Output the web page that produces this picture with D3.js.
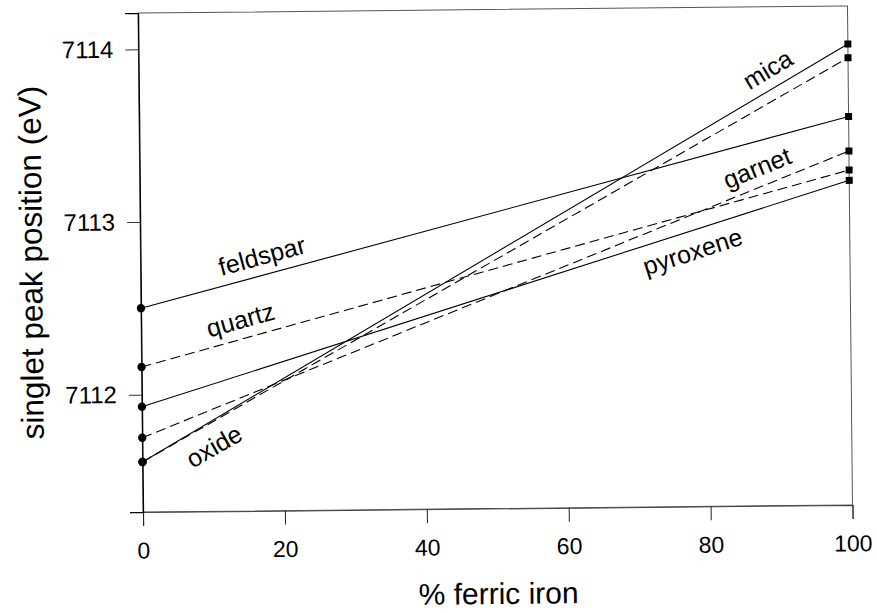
<!DOCTYPE html>
<html>
<head>
<meta charset="utf-8">
<script src="https://cdn.jsdelivr.net/npm/d3@7"></script>
<style>
  html, body { margin: 0; padding: 0; background: #fff; }
  svg { display: block; }
  text { font-family: "Liberation Sans", Arial, Helvetica, sans-serif; fill: #000; }
</style>
</head>
<body>
<svg id="chart" width="877" height="613"></svg>
<script>
// Singlet pre-edge peak position vs. ferric iron fraction, per mineral group
const minerals = ["feldspar", "quartz", "pyroxene", "garnet", "oxide", "mica"];
const ferricPct = [0, 100];
const peakAtFerrous = [7112.50, 7112.16, 7111.93, 7111.75, 7111.61, 7111.61];
const peakAtFerric  = [7113.57, 7113.26, 7113.20, 7113.37, 7113.91, 7113.99];
const xTicks = [0, 20, 40, 60, 80, 100];
const yTicks = [7112, 7113, 7114];

// drawing styles per mineral
const dashStyle = { feldspar: null, quartz: "10,5", pyroxene: null, garnet: "10,5", oxide: "10,5", mica: null };
// label placement: percent along the line, perpendicular offset (negative = above)
const labelPlace = {
  feldspar: { at: 17.8, off: -19 },
  quartz:   { at: 14.7, off: -19 },
  pyroxene: { at: 77,   off: 20 },
  garnet:   { at: 88,   off: -19 },
  oxide:    { at: 8.6,  off: 22 },
  mica:     { at: 90,   off: -19 }
};

const svg = d3.select("#chart");
const plotL = 140.5, plotR = 850, plotT = 9.5, plotB = 508.5;

const x = d3.scaleLinear().domain([0, 100]).range([plotL, plotR]);
const y = d3.scaleLinear().domain([7111.32, 7114.21]).range([plotB, plotT]);

// the whole figure sits very slightly tilted
const g = svg.append("g").attr("transform", "rotate(-0.573, 495, 259)");

// frame
g.append("rect")
  .attr("x", plotL).attr("y", plotT)
  .attr("width", plotR - plotL).attr("height", plotB - plotT)
  .attr("fill", "none").attr("stroke", "#555").attr("stroke-width", 1);

// axes
const xAxis = d3.axisBottom(x).tickValues(xTicks).tickSize(14).tickPadding(16)
  .tickFormat(d3.format("d"));
const gx = g.append("g").attr("transform", `translate(0,${plotB})`).call(xAxis);
gx.select(".domain").attr("stroke", "#444");
gx.selectAll(".tick line").attr("stroke", "#222");
gx.selectAll(".tick text")
  .style("font-size", "23px")
  .attr("fill", "#000");

const yAxis = d3.axisLeft(y).tickValues(yTicks).tickSize(13).tickPadding(12)
  .tickFormat(d3.format("d"));
const gy = g.append("g").attr("transform", `translate(${plotL},0)`).call(yAxis);
gy.select(".domain").attr("stroke", "#000").attr("stroke-width", 1.3);
gy.selectAll(".tick line").attr("stroke", "#333");
gy.selectAll(".tick text").style("font-size", "24px").attr("fill", "#000");

// axis titles
g.append("text")
  .attr("x", (plotL + plotR) / 2).attr("y", 604)
  .attr("text-anchor", "middle")
  .style("font-size", "30px")
  .text("% ferric iron");

g.append("text")
  .attr("transform", `translate(42,258) rotate(-90)`)
  .attr("text-anchor", "middle")
  .style("font-size", "31.5px")
  .text("singlet peak position (eV)");

// lines
const rows = minerals.map((m, i) => ({
  name: m,
  pts: [[ferricPct[0], peakAtFerrous[i]], [ferricPct[1], peakAtFerric[i]]]
}));

const line = d3.line().x(d => x(d[0])).y(d => y(d[1]));

g.append("g").selectAll("path").data(rows).join("path")
  .attr("d", d => line(d.pts))
  .attr("fill", "none")
  .attr("stroke", "#000")
  .attr("stroke-width", 1.1)
  .attr("stroke-dasharray", d => dashStyle[d.name]);

// end markers: circles at 0 %, squares at 100 %
g.append("g").selectAll("circle").data(rows).join("circle")
  .attr("cx", d => x(d.pts[0][0]))
  .attr("cy", d => y(d.pts[0][1]))
  .attr("r", 4.2)
  .attr("fill", "#000");

g.append("g").selectAll("rect").data(rows).join("rect")
  .attr("x", d => x(d.pts[1][0]) - 3.5)
  .attr("y", d => y(d.pts[1][1]) - 3.5)
  .attr("width", 7).attr("height", 7)
  .attr("fill", "#000");

// line labels, set along each line
g.append("g").selectAll("text").data(rows).join("text")
  .attr("transform", d => {
    const p = labelPlace[d.name];
    const x0 = x(d.pts[0][0]), y0 = y(d.pts[0][1]);
    const x1 = x(d.pts[1][0]), y1 = y(d.pts[1][1]);
    const ang = Math.atan2(y1 - y0, x1 - x0);
    const t = p.at / 100;
    const px = x0 + (x1 - x0) * t, py = y0 + (y1 - y0) * t;
    // unit normal pointing below the line
    const nx = -Math.sin(ang), ny = Math.cos(ang);
    const cx = px + nx * p.off, cy = py + ny * p.off;
    return `translate(${cx},${cy}) rotate(${ang * 180 / Math.PI})`;
  })
  .attr("text-anchor", "middle")
  .attr("dy", "0.35em")
  .style("font-size", "25px")
  .text(d => d.name);
</script>
</body>
</html>
